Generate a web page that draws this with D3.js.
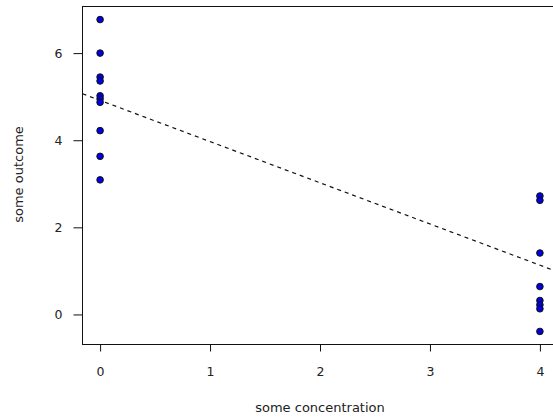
<!DOCTYPE html>
<html><head><meta charset="utf-8">
<script src="https://cdn.jsdelivr.net/npm/d3@7"></script>
<style>body{margin:0;background:#fff}svg{display:block}text{font-family:"DejaVu Sans",Verdana,sans-serif;fill:#222}</style>
</head><body><svg id="c" width="553" height="418"></svg>
<script>
const xGroup0 = [0,0,0,0,0,0,0,0,0,0];
const yGroup0 = [6.77,6.0,5.45,5.36,5.02,4.95,4.87,4.22,3.63,3.09];
const xGroup4 = [4,4,4,4,4,4,4,4];
const yGroup4 = [2.72,2.62,1.41,0.64,0.32,0.22,0.13,-0.39];
const xTicks = [0,1,2,3,4];
const yTicks = [0,2,4,6];
const fitIntercept = 4.915;
const fitSlope = -0.946;
const xLabel = "some concentration";
const yLabel = "some outcome";

const svg = d3.select("#c");
const L = 82.5, R = 557.5, T = 6.5, B = 344.5;
const x = d3.scaleLinear().domain([-0.16, 4.16]).range([L, R]);
const y = d3.scaleLinear().domain([-0.69, 7.07]).range([B, T]);

// box
svg.append("rect").attr("x", L).attr("y", T).attr("width", R - L).attr("height", B - T)
  .attr("fill", "none").attr("stroke", "#111").attr("stroke-width", 1);

// axes
const xa = svg.append("g").attr("transform", `translate(0,${B})`)
  .call(d3.axisBottom(x).tickValues(xTicks).tickFormat(d3.format("d")).tickSize(7).tickPadding(15.5));
xa.select(".domain").remove();
const ya = svg.append("g").attr("transform", `translate(${L},0)`)
  .call(d3.axisLeft(y).tickValues(yTicks).tickFormat(d3.format("d")).tickSize(9).tickPadding(11));
ya.select(".domain").remove();
svg.selectAll(".tick line").attr("stroke", "#111");
svg.selectAll(".tick text").style("font-size", "12.5px").style("font-family", "DejaVu Sans").attr("fill", "#222");

// fit line clipped to box
svg.append("clipPath").attr("id", "clip").append("rect").attr("x", L).attr("y", T).attr("width", R - L).attr("height", B - T);
const x0 = -0.16, x1 = 4.16;
svg.append("line").attr("clip-path", "url(#clip)")
  .attr("x1", x(x0)).attr("y1", y(fitIntercept + fitSlope * x0))
  .attr("x2", x(x1)).attr("y2", y(fitIntercept + fitSlope * x1))
  .attr("stroke", "#111").attr("stroke-width", 1.2).attr("stroke-dasharray", "4,4");

// points
const pts = xGroup0.map((d, i) => [d, yGroup0[i]]).concat(xGroup4.map((d, i) => [d, yGroup4[i]]));
svg.append("g").selectAll("circle").data(pts).join("circle")
  .attr("cx", d => x(d[0])).attr("cy", d => y(d[1])).attr("r", 3.3)
  .attr("fill", "#0000e0").attr("stroke", "#111").attr("stroke-width", 1);

// labels
svg.append("text").attr("x", x(2)).attr("y", 412).attr("text-anchor", "middle")
  .style("font-size", "13px").text(xLabel);
svg.append("text").attr("transform", `translate(23,174.5) rotate(-90)`).attr("text-anchor", "middle")
  .style("font-size", "13px").text(yLabel);
</script></body></html>
